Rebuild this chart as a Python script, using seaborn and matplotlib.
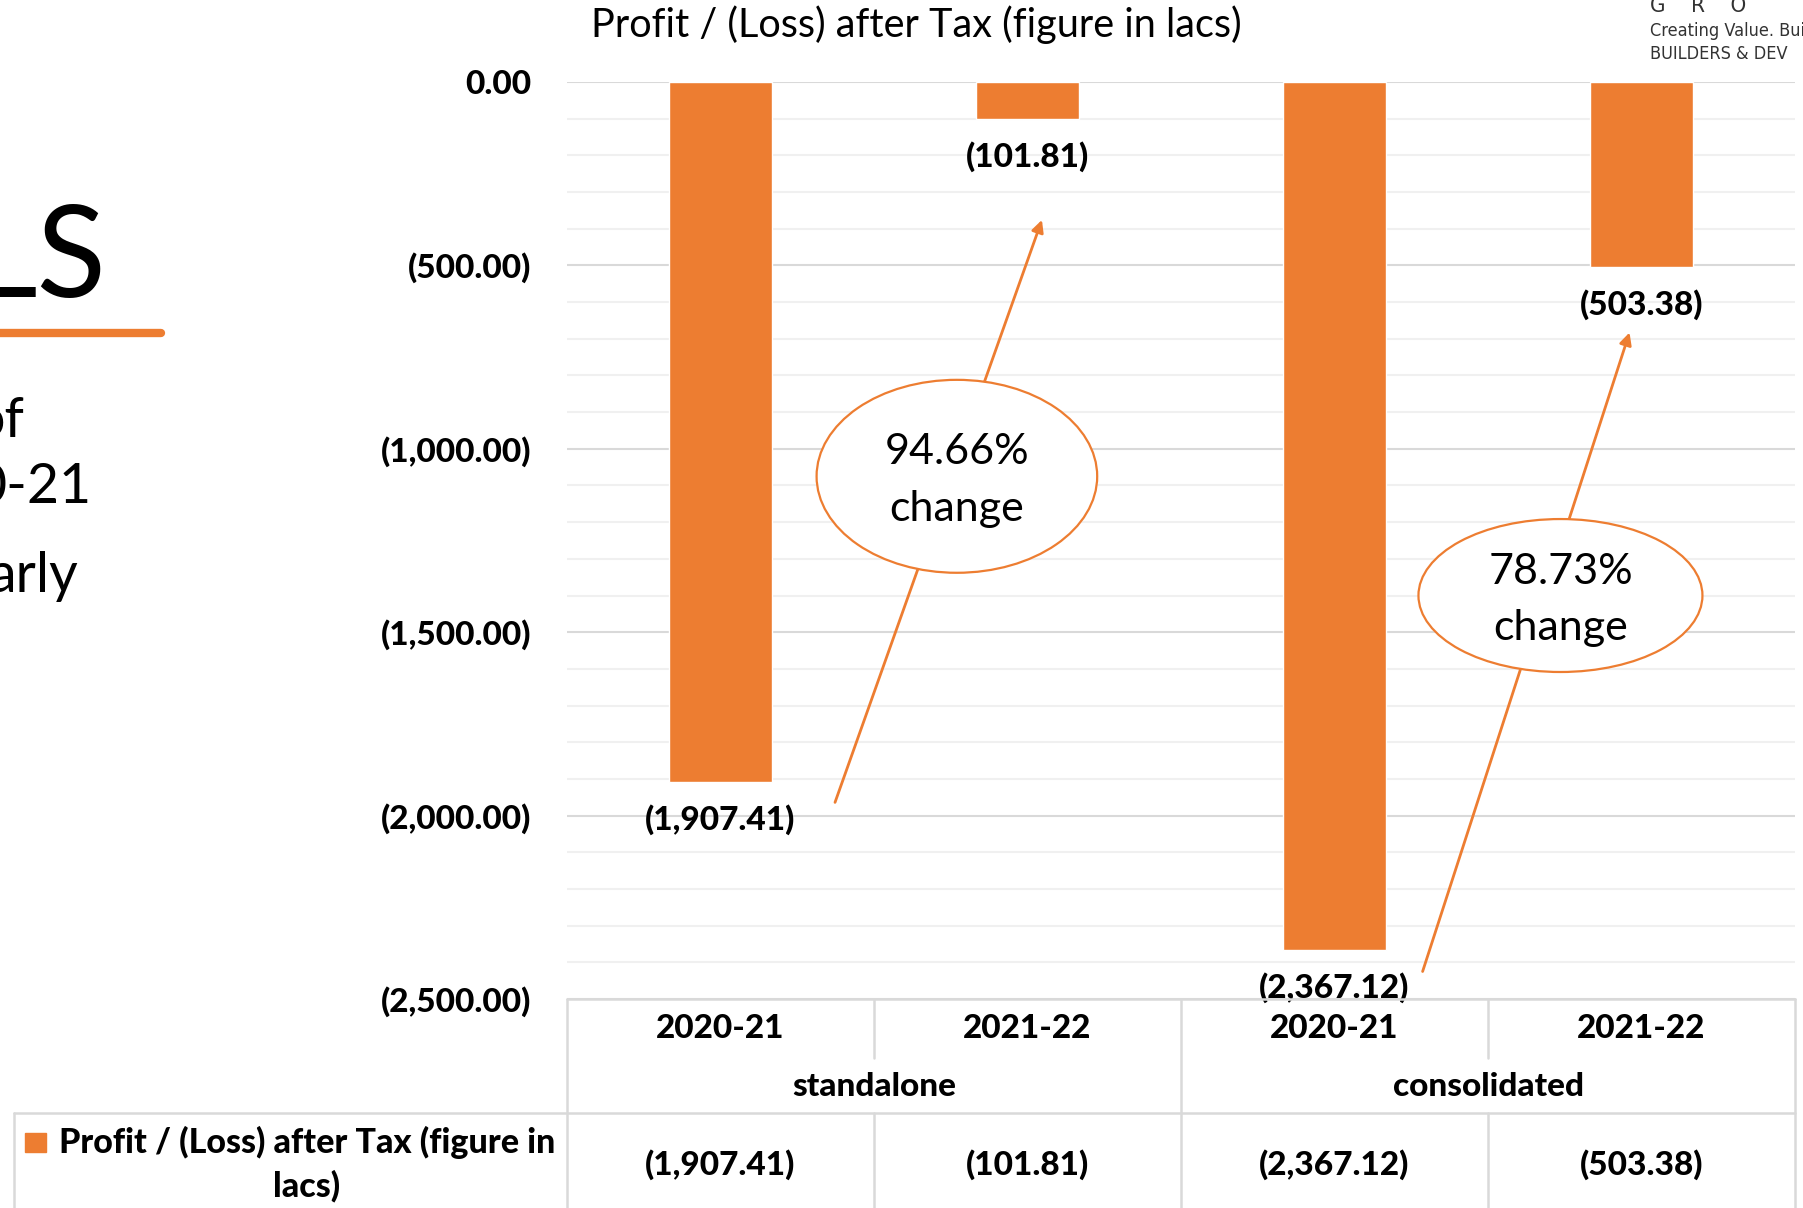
import numpy as np
import pandas as pd
import matplotlib
matplotlib.use("Agg")
import matplotlib.pyplot as plt
import seaborn as sns
from matplotlib.patches import Ellipse, Rectangle
from matplotlib.lines import Line2D
from matplotlib.transforms import blended_transform_factory
from matplotlib.ticker import FuncFormatter

# --- data ---
years = ["2020-21", "2021-22", "2020-21", "2021-22"]
bar_group = ["standalone", "standalone", "consolidated", "consolidated"]
groups = ["standalone", "consolidated"]
profit_after_tax = [-1907.41, -101.81, -2367.12, -503.38]
change_labels = ["94.66%\nchange", "78.73%\nchange"]
series_name = "Profit / (Loss) after Tax (figure in lacs)"

ORANGE = "#ED7D31"
GRID = "#d9d9d9"
W, H = 1803, 1208
BOLD = "black"
LBL = 24


def fmt(v):
    # excel accounting style: negatives in brackets
    if v < 0:
        return f"({abs(v):,.2f})"
    return f"{v:,.2f}"


def fy(px):
    return 1 - px / H


sns.set_theme(style="white")
plt.rcParams["font.family"] = ["Lato", "DejaVu Sans"]
plt.rcParams["text.color"] = "black"
plt.rcParams["ytick.color"] = "black"

fig = plt.figure(figsize=(W / 100, H / 100), dpi=100)
ax = fig.add_axes([567 / W, fy(999), (1795 - 567) / W, (999 - 82) / H])

df = pd.DataFrame({
    "bar": [f"{g} {y}" for g, y in zip(bar_group, years)],
    "value": profit_after_tax,
})
sns.barplot(data=df, x="bar", y="value", color=ORANGE, saturation=1,
            width=1 / 3, ax=ax, zorder=3)

ax.set_xlim(-0.5, 3.5)
ax.set_ylim(-2500, 0)
ax.set_yticks(np.arange(-2500, 1, 500))
ax.set_yticks(np.arange(-2500, 1, 100), minor=True)
ax.yaxis.set_major_formatter(FuncFormatter(lambda v, p: fmt(v)))
ax.grid(axis="y", which="major", color=GRID, lw=1.5)
ax.grid(axis="y", which="minor", color="#f0f0f0", lw=1.5)
ax.set_axisbelow(True)
ax.tick_params(axis="y", which="both", length=0, pad=26, labelsize=LBL)
plt.setp(ax.get_yticklabels(), fontweight=BOLD)
ax.set_xticks([])
ax.set_xlabel("")
ax.set_ylabel("")
for s in ax.spines.values():
    s.set_visible(False)

# data labels under each bar
for p, v in zip(ax.patches, profit_after_tax):
    ax.annotate(fmt(v), (p.get_x() + p.get_width() / 2, v), xytext=(0, -27),
                textcoords="offset points", ha="center", va="center",
                fontsize=LBL, fontweight=BOLD, annotation_clip=False, zorder=5)

# change call-outs (layout only)
arrow_tail = [(0.373, -1964), (2.287, -2425)]
arrow_head = [(1.047, -376), (2.961, -683)]
bubble_xy = [(0.770, -1075), (2.736, -1400)]
bubble_wh = [(0.914, 526), (0.925, 417)]
for tail, head, c, wh, txt in zip(arrow_tail, arrow_head, bubble_xy, bubble_wh, change_labels):
    ax.annotate("", xy=head, xytext=tail, annotation_clip=False,
                arrowprops=dict(arrowstyle="-|>", color=ORANGE, lw=2,
                                mutation_scale=18, shrinkA=0, shrinkB=0), zorder=6)
    ax.add_patch(Ellipse(c, wh[0], wh[1], facecolor="white", edgecolor=ORANGE,
                         lw=1.6, zorder=7, clip_on=False))
    ax.text(c[0], c[1] - 12, txt, ha="center", va="center", fontsize=31,
            linespacing=1.6, zorder=8)

# --- data table under the chart ---
tr = blended_transform_factory(ax.transData, fig.transFigure)
line_kw = dict(color=GRID, lw=1.8)
fig.add_artist(Line2D([567 / W, 1795 / W], [fy(999), fy(999)], transform=fig.transFigure, **line_kw))
fig.add_artist(Line2D([14 / W, 1795 / W], [fy(1113), fy(1113)], transform=fig.transFigure, **line_kw))
fig.add_artist(Line2D([14 / W, 14 / W], [fy(1113), 0], transform=fig.transFigure, **line_kw))
for x in [-0.5, 1.5, 3.5]:
    fig.add_artist(Line2D([x, x], [fy(999), 0], transform=tr, **line_kw))
for x in [0.5, 2.5]:
    fig.add_artist(Line2D([x, x], [fy(999), fy(1058)], transform=tr, **line_kw))
    fig.add_artist(Line2D([x, x], [fy(1113), 0], transform=tr, **line_kw))

for i, (yr, v) in enumerate(zip(years, profit_after_tax)):
    fig.text(i, fy(1029), yr, transform=tr, ha="center", va="center",
             fontsize=LBL, fontweight=BOLD)
    fig.text(i, fy(1165), fmt(v), transform=tr, ha="center", va="center",
             fontsize=LBL, fontweight=BOLD)
for j, g in enumerate(groups):
    fig.text(2 * j + 0.5, fy(1086), g, transform=tr, ha="center", va="center",
             fontsize=LBL, fontweight=BOLD)

fig.text(307 / W, fy(1164), "Profit / (Loss) after Tax (figure in\nlacs)",
         ha="center", va="center", multialignment="center", fontsize=24.5,
         fontweight=BOLD, linespacing=1.4)
fig.add_artist(Rectangle((25 / W, fy(1152)), 21 / W, 19 / H,
                         transform=fig.transFigure, color=ORANGE))

# title
fig.text(916 / W, fy(25), series_name, ha="center", va="center", fontsize=28.5)

# slide text cut off on the left
fig.text(106 / W, fy(297), "LS", ha="right", va="baseline", fontsize=92)
fig.add_artist(Line2D([-10 / W, 161 / W], [fy(333), fy(333)], transform=fig.transFigure,
                      color=ORANGE, lw=6, solid_capstyle="round"))
fig.text(25 / W, fy(437), "of", ha="right", va="baseline", fontsize=40)
fig.text(92 / W, fy(503), "0-21", ha="right", va="baseline", fontsize=40)
fig.text(78 / W, fy(592), "arly", ha="right", va="baseline", fontsize=40)

# logo fragment top right
fig.text(1650 / W, fy(6), "G    R    O", ha="left", va="center", fontsize=16,
         family="DejaVu Sans", stretch="condensed", color="#333333")
fig.text(1650 / W, fy(31), "Creating Value. Bui", ha="left", va="center", fontsize=13,
         family="DejaVu Sans", stretch="condensed", color="#333333")
fig.text(1650 / W, fy(54), "BUILDERS & DEV", ha="left", va="center", fontsize=13,
         family="DejaVu Sans", stretch="condensed", color="#333333")

fig.savefig("out.png", dpi=100)
